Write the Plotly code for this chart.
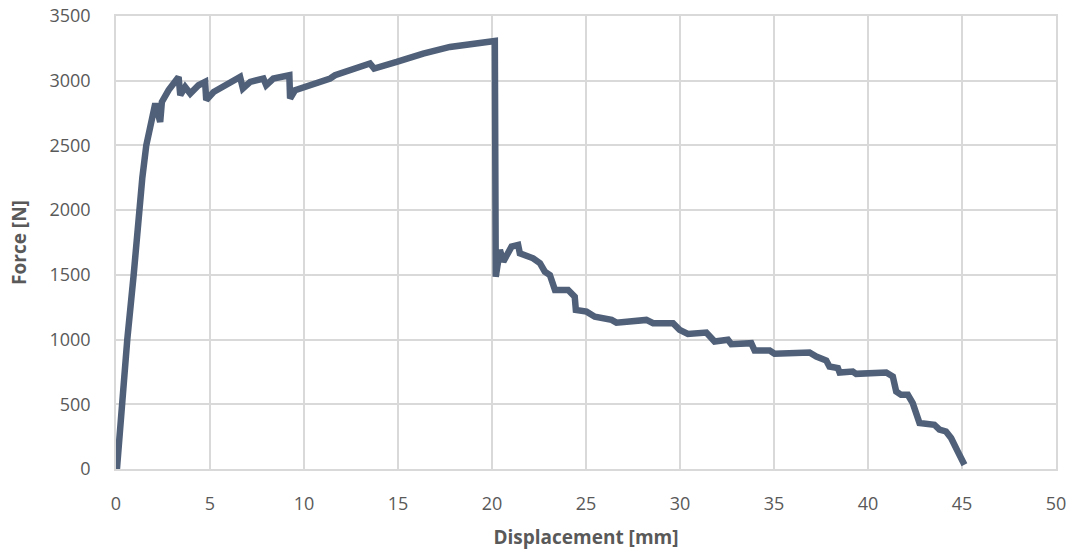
import plotly.graph_objects as go

displacement_mm = [
    0.05, 0.30, 0.60, 0.94, 1.20, 1.40, 1.61, 1.80, 1.95, 2.09, 2.35, 2.44, 2.80, 3.06, 3.33,
    3.42, 3.68, 3.95, 4.39, 4.74, 4.80, 5.19, 5.90, 6.60, 6.75, 7.14, 7.84, 7.99, 8.37, 9.22,
    9.26, 9.53, 11.39, 11.65, 13.51, 13.73, 14.93, 16.34, 17.76, 18.65, 20.15, 20.20, 20.42,
    20.60, 21.04, 21.39, 21.48, 22.19, 22.55, 22.81, 23.08, 23.35, 24.05, 24.40, 24.46, 25.03,
    25.47, 26.36, 26.62, 28.21, 28.57, 29.63, 29.98, 30.42, 31.40, 31.84, 32.55, 32.73, 33.79,
    33.97, 34.77, 35.03, 36.89, 37.25, 37.78, 37.95, 38.40, 38.49, 39.19, 39.37, 40.97, 41.32,
    41.50, 41.76, 42.12, 42.38, 42.74, 43.53, 43.80, 44.15, 44.42, 44.77, 45.13,
]
force_N = [
    0, 500, 1000, 1500, 2000, 2250, 2500, 2640, 2720, 2824, 2682, 2836, 2927, 2978, 3029,
    2888, 2952, 2901, 2965, 2991, 2850, 2913, 2978, 3029, 2940, 2991, 3017, 2965, 3017, 3042,
    2863, 2927, 3017, 3042, 3133, 3094, 3145, 3210, 3261, 3282, 3307, 1486, 1693,
    1602, 1718, 1731, 1667, 1628, 1590, 1525, 1499, 1383, 1383, 1332, 1229, 1216,
    1177, 1152, 1131, 1152, 1126, 1126, 1075, 1044, 1054, 985, 998, 964, 972,
    915, 915, 890, 900, 869, 838, 792, 779, 745, 753, 735, 745, 714,
    599, 573, 573, 509, 355, 342, 304, 290, 239, 136, 33,
]

x_ticks = [0, 5, 10, 15, 20, 25, 30, 35, 40, 45, 50]
y_ticks = [0, 500, 1000, 1500, 2000, 2500, 3000, 3500]

line_color = "#506079"
grid_color = "#d9d9d9"
text_color = "#595959"
font_family = "Open Sans, Liberation Sans, sans-serif"

fig = go.Figure(
    go.Scatter(
        x=displacement_mm,
        y=force_N,
        mode="lines",
        line=dict(color=line_color, width=6.5),
        showlegend=False,
    )
)

axis_common = dict(
    showgrid=True,
    gridcolor=grid_color,
    gridwidth=1.5,
    zeroline=False,
    showline=True,
    linecolor=grid_color,
    linewidth=1.5,
    mirror=True,
    ticks="",
    automargin=False,
    tickfont=dict(family=font_family, size=18, color=text_color),
)

fig.update_layout(
    width=1071,
    height=553,
    margin=dict(l=116, r=15, t=16, b=84),
    paper_bgcolor="white",
    plot_bgcolor="white",
    xaxis=dict(
        range=[0, 50],
        tickvals=x_ticks,
        ticklabelstandoff=18,
        title=dict(text="<b>Displacement [mm]</b>", standoff=16,
                   font=dict(family=font_family, size=19, color=text_color)),
        **axis_common,
    ),
    yaxis=dict(
        range=[0, 3500],
        tickvals=y_ticks,
        ticklabelstandoff=20,
        title=dict(text="<b>Force [N]</b>", standoff=18,
                   font=dict(family=font_family, size=19, color=text_color)),
        **axis_common,
    ),
)

fig.write_html("out.html")
